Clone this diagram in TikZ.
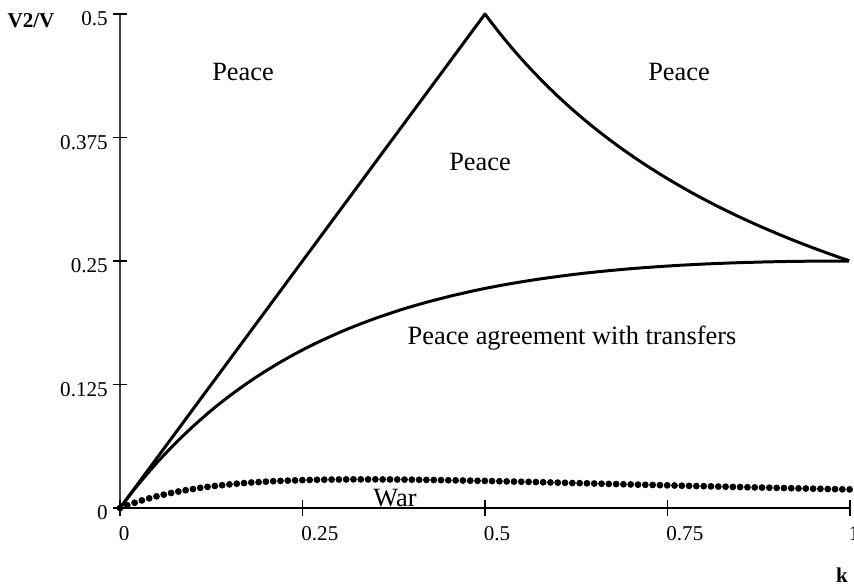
\documentclass[tikz,border=0pt]{standalone}
\usepackage{amsmath}
\usepackage{fontspec}
\setmainfont{Liberation Serif}
\usepackage{tikz}

\begin{document}
\begin{tikzpicture}[x=14.6cm,y=19.76cm,>=latex,
  ticklabel/.style={font=\fontsize{12}{14}\selectfont,inner sep=0pt},
  region/.style={font=\fontsize{15}{18}\selectfont,inner sep=0pt,anchor=base}]
\useasboundingbox (-0.16438,-0.07692) rectangle (1.00548,0.51417) ;

\draw[line width=0.6pt,black!75] (0,0) -- (0,0.5) ;
\draw[line width=0.6pt] (-0.0096,0) -- (1,0) ;

\draw[line width=0.6pt] (-0.0096,0.5) -- (0.0096,0.5) ;
\draw[line width=0.6pt] (-0.0096,0.375) -- (0.0096,0.375) ;
\draw[line width=0.6pt] (-0.0096,0.25) -- (0.0096,0.25) ;
\draw[line width=0.6pt] (-0.0096,0.125) -- (0.0096,0.125) ;
\draw[line width=0.6pt] (0,-0.0076) -- (0,0.0076) ;
\draw[line width=0.6pt] (0.25,-0.0076) -- (0.25,0.0076) ;
\draw[line width=0.6pt] (0.5,-0.0076) -- (0.5,0.0076) ;
\draw[line width=0.6pt] (0.75,-0.0076) -- (0.75,0.0076) ;
\draw[line width=0.6pt] (1,-0.0076) -- (1,0.0076) ;

\node[ticklabel,anchor=base east] (ylabA) at (-0.0164,0.4879) {0.5} ;
\node[ticklabel,anchor=base east] (ylabB) at (-0.0164,0.3629) {0.375} ;
\node[ticklabel,anchor=base east] (ylabC) at (-0.0164,0.2379) {0.25} ;
\node[ticklabel,anchor=base east] (ylabD) at (-0.0164,0.1129) {0.125} ;
\node[ticklabel,anchor=base east] (ylabE) at (-0.0164,-0.0121) {0} ;
\node[ticklabel,anchor=base west] (xlabA) at (-0.002,-0.0324) {0} ;
\node[ticklabel,anchor=base west] (xlabB) at (0.248,-0.0324) {0.25} ;
\node[ticklabel,anchor=base west] (xlabC) at (0.498,-0.0324) {0.5} ;
\node[ticklabel,anchor=base west] (xlabD) at (0.748,-0.0324) {0.75} ;
\node[ticklabel,anchor=base west] (xlabE) at (0.998,-0.0324) {1} ;
\node[ticklabel,anchor=base,font=\fontsize{12}{14}\selectfont\bfseries] (ytitle) at (-0.1219,0.4868) {V2/V} ;
\node[ticklabel,anchor=base,font=\fontsize{12}{14}\selectfont\bfseries] (xtitle) at (0.989,-0.0749) {k} ;

\draw[line width=1.7pt,line join=round] (0,0) -- (0.5,0.5) -- plot[domain=0.5:1,samples=80] (\x,{1/(4*\x)}) ;
\draw[line width=1.7pt,domain=0:1,samples=100] plot (\x,{\x/((1+\x)^2)}) ;
\draw plot[only marks,mark=*,mark size=1.7pt,domain=0:1,samples=101] (\x,{0.2936*\x/((1+1.5*\x)^3)}) ;

\node[region] (peaceL) at (0.1685,0.4332) {Peace} ;
\node[region] (peaceR) at (0.7658,0.4322) {Peace} ;
\node[region] (peaceM) at (0.4932,0.3421) {Peace} ;
\node[region] (deal) at (0.6192,0.165) {Peace agreement with transfers} ;
\node[region] (war) at (0.3767,0.002) {War} ;

\end{tikzpicture}
\end{document}
